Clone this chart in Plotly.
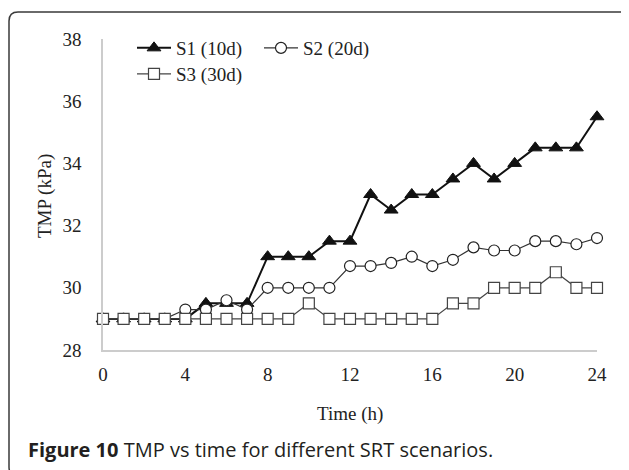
import plotly.graph_objects as go

time_h = list(range(0, 25))
s1_10d = [29, 29, 29, 29, 29, 29.5, 29.5, 29.5, 31, 31, 31, 31.5, 31.5, 33, 32.5, 33, 33, 33.5, 34, 33.5, 34, 34.5, 34.5, 34.5, 35.5]
s2_20d = [29, 29, 29, 29, 29.3, 29.3, 29.6, 29.3, 30, 30, 30, 30, 30.7, 30.7, 30.8, 31, 30.7, 30.9, 31.3, 31.2, 31.2, 31.5, 31.5, 31.4, 31.6]
s3_30d = [29, 29, 29, 29, 29, 29, 29, 29, 29, 29, 29.5, 29, 29, 29, 29, 29, 29, 29.5, 29.5, 30, 30, 30, 30.5, 30, 30]
series_names = ["S1 (10d)", "S2 (20d)", "S3 (30d)"]
x_ticks = [0, 4, 8, 12, 16, 20, 24]
y_ticks = [28, 30, 32, 34, 36, 38]

OFF = 8  # page body margin
W, H = 629 - OFF, 470 - OFF
L, R, T, B = 103 - OFF, 597 - OFF, 39 - OFF, 350 - OFF
PW, PH = R - L, B - T

def px(x):
    return (x - OFF - L) / PW

def py(y):
    return (B - (y - OFF)) / PH

serif = "Liberation Serif"

fig = go.Figure()
fig.add_trace(go.Scatter(
    x=time_h, y=s1_10d, name=series_names[0], mode="lines+markers",
    line=dict(color="#111111", width=2),
    marker=dict(symbol="triangle-up", size=12, color="#111111", line=dict(color="#111111", width=1)),
    cliponaxis=False, legend="legend"))
fig.add_trace(go.Scatter(
    x=time_h, y=s2_20d, name=series_names[1], mode="lines+markers",
    line=dict(color="#333333", width=1.2),
    marker=dict(symbol="circle", size=11, color="white", line=dict(color="#222222", width=1.2)),
    cliponaxis=False, legend="legend"))
fig.add_trace(go.Scatter(
    x=time_h, y=s3_30d, name=series_names[2], mode="lines+markers",
    line=dict(color="#444444", width=1.2),
    marker=dict(symbol="square", size=11, color="white", line=dict(color="#444444", width=1.2)),
    cliponaxis=False, legend="legend2"))

# rounded frame: top edge and left edge with the top-left / bottom-left corners
r = 9
rx, ry = r / PW, r / PH
fx0, fy0 = px(9), py(12)
fxr, fyb = px(640), py(476)
path = (f"M {fx0},{fyb + ry} L {fx0},{fy0 - ry} Q {fx0},{fy0} {fx0 + rx},{fy0} "
        f"L {fxr},{fy0} "
        f"M {fx0},{fyb + ry} Q {fx0},{fyb} {fx0 + rx},{fyb}")
fig.add_shape(type="path", xref="paper", yref="paper", path=path,
              line=dict(color="#3a3a3a", width=1.5), layer="below")

fig.add_annotation(xref="paper", yref="paper", x=px(45), y=py(196), text="TMP (kPa)",
                   xanchor="center", yanchor="middle",
                   textangle=-90, showarrow=False, font=dict(family=serif, size=19, color="#222222"))
fig.add_annotation(xref="paper", yref="paper", x=px(350), y=py(414), text="Time (h)",
                   xanchor="center", yanchor="middle",
                   showarrow=False, font=dict(family=serif, size=19, color="#222222"))
fig.add_annotation(xref="paper", yref="paper", x=px(26), y=py(450), xanchor="left", yanchor="middle",
                   text="<b>Figure 10</b> TMP vs time for different SRT scenarios.",
                   showarrow=False, font=dict(family="Open Sans", size=20, color="#231f20"))

fig.update_layout(
    width=W, height=H,
    margin=dict(l=L, r=W - R, t=T, b=H - B, pad=0),
    paper_bgcolor="white", plot_bgcolor="white",
    font=dict(family=serif, size=18, color="#222222"),
    xaxis=dict(range=[0, 24], tickvals=x_ticks, showgrid=False, zeroline=False,
               showline=True, linecolor="#cccccc", linewidth=1.5, ticks="",
               ticklabelstandoff=6, tickfont=dict(family=serif, size=19, color="#222222")),
    yaxis=dict(range=[28, 38], tickvals=y_ticks, showgrid=False, zeroline=False,
               showline=True, linecolor="#cccccc", linewidth=1.5, ticks="",
               ticklabelstandoff=16, tickfont=dict(family=serif, size=19, color="#222222")),
    legend=dict(orientation="h", x=px(132), y=py(29), xanchor="left", yanchor="top",
                bgcolor="rgba(0,0,0,0)", font=dict(family=serif, size=19, color="#222222"),
                itemwidth=34, entrywidth=78),
    legend2=dict(orientation="h", x=px(132), y=py(55), xanchor="left", yanchor="top",
                 bgcolor="rgba(0,0,0,0)", font=dict(family=serif, size=19, color="#222222"),
                 itemwidth=34),
    showlegend=True,
)

fig.write_html("out.html")
